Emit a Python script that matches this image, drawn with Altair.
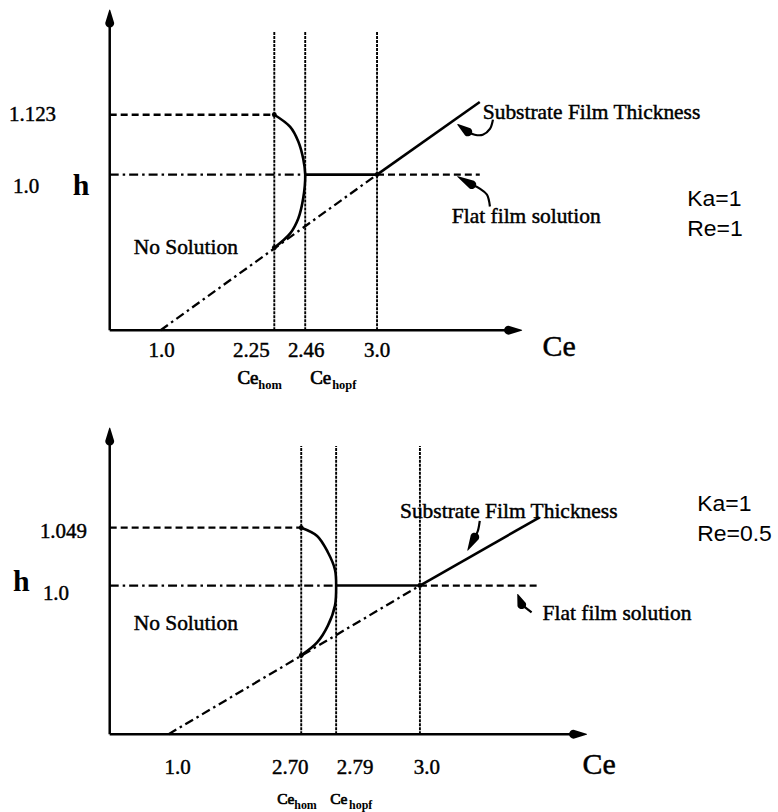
import altair as alt
import pandas as pd

SERIF = "Liberation Serif"
SANS = "Liberation Sans"

# ---------------- data: top panel (Ka=1, Re=1) ----------------
top_ce_ticks = [1.0, 2.25, 2.46, 3.0]          # Ce values marked on the axis
top_ce_labels = ["1.0", "2.25", "2.46", "3.0"]
top_h_ticks = [1.123, 1.0]
top_h_labels = ["1.123", "1.0"]
top_arc_ce = [2.25, 2.358, 2.413, 2.446, 2.46, 2.446, 2.413, 2.358, 2.25]
top_arc_h = [1.123, 1.098, 1.068, 1.033, 1.0, 0.846, 0.718, 0.622, 0.53]
top_sub_end = [4.0, 1.15]                        # end of substrate line (Ce, h)
top_arrow_sub_ce = [4.126, 4.097, 4.029, 3.951, 3.883, 3.786]
top_arrow_sub_h = [1.113, 1.094, 1.082, 1.082, 1.088, 1.103]
top_arrow_flat_ce = [4.097, 4.068, 4.0, 3.922, 3.786]
top_arrow_flat_h = [0.795, 0.872, 0.910, 0.936, 0.987]
top_params = ["Ka=1", "Re=1"]

# ---------------- data: bottom panel (Ka=1, Re=0.5) ----------------
bot_ce_ticks = [1.0, 2.70, 2.79, 3.0]
bot_ce_labels = ["1.0", "2.70", "2.79", "3.0"]
bot_h_ticks = [1.049, 1.0]
bot_h_labels = ["1.049", "1.0"]
bot_arc_ce = [2.70, 2.741, 2.769, 2.787, 2.79, 2.787, 2.769, 2.741, 2.70]
bot_arc_h = [1.049, 1.042, 1.028, 1.0135, 1.0, 0.866, 0.732, 0.617, 0.53]
bot_sub_end = [4.0, 1.058]
bot_arrow_sub_ce = [3.50, 3.483, 3.458, 3.40]
bot_arrow_sub_h = [1.055, 1.046, 1.041, 1.030]
bot_arrow_flat_ce = [3.933, 3.85, 3.817]
bot_arrow_flat_h = [0.819, 0.872, 0.940]
bot_params = ["Ka=1", "Re=0.5"]

TXT = dict(color="black", stroke="black", strokeWidth=0.45)


def panel(c):
    xs = alt.Scale(domain=c["x_dom"], range=c["x_rng"], nice=False, zero=False)
    ys = alt.Scale(domain=c["y_dom"], range=c["y_rng"], nice=False, zero=False)

    def X(f="ce"):
        return alt.X(f, type="quantitative", scale=xs, axis=None)

    def Y(f="h"):
        return alt.Y(f, type="quantitative", scale=ys, axis=None)

    ce_hom, ce_hopf = c["ticks"][1], c["ticks"][2]
    ce_one, ce_c = c["ticks"][0], c["ticks"][3]
    h_max, h_flat = c["h_ticks"][0], c["h_ticks"][1]
    h_low = c["arc_h"][-1]
    ce_end, h_end = c["sub_end"]
    x0, x_tip = c["x_dom"][0], c["x_dom"][-1]
    h_ref_top, h_tip = c["y_dom"][-2], c["y_dom"][-1]
    xh, yh = c["head_len"]

    layers = []

    # vertical reference lines
    ref = pd.DataFrame({"ce": [ce_hom, ce_hopf, ce_c], "h": [0.0] * 3,
                        "h2": [h_ref_top] * 3})
    layers.append(alt.Chart(ref).mark_rule(color="black", strokeWidth=1.9,
                                           strokeDash=[3, 1]).encode(
        x=X(), y=Y(), y2="h2"))

    # axes (shafts end at the base of the arrow heads)
    axes = pd.DataFrame({"ce": [x0, x0], "h": [0.0, 0.0],
                         "ce2": [x_tip - xh, x0], "h2": [0.0, h_tip - yh]})
    layers.append(alt.Chart(axes).mark_rule(color="black", strokeWidth=2.5).encode(
        x=X(), y=Y(), x2="ce2", y2="h2"))

    # dashed segments
    dashed = pd.DataFrame({"ce": [x0, ce_c], "h": [h_max, h_flat],
                           "ce2": [ce_hom, ce_end], "h2": [h_max, h_flat]})
    layers.append(alt.Chart(dashed).mark_rule(color="black", strokeWidth=2.3,
                                              strokeDash=[7, 4]).encode(
        x=X(), y=Y(), x2="ce2", y2="h2"))
    # dash-dot segments
    dashdot = pd.DataFrame({"ce": [x0, ce_one], "h": [h_flat, 0.0],
                            "ce2": [ce_hopf, ce_c], "h2": [h_flat, h_flat]})
    layers.append(alt.Chart(dashdot).mark_rule(color="black", strokeWidth=2.3,
                                               strokeDash=[9, 4, 2.5, 4]).encode(
        x=X(), y=Y(), x2="ce2", y2="h2"))
    # solid segments
    solid = pd.DataFrame({"ce": [ce_hopf, ce_c], "h": [h_flat, h_flat],
                          "ce2": [ce_c, ce_end], "h2": [h_flat, h_end]})
    layers.append(alt.Chart(solid).mark_rule(color="black", strokeWidth=2.6).encode(
        x=X(), y=Y(), x2="ce2", y2="h2"))

    # bifurcation arc
    arc = pd.DataFrame({"ce": c["arc_ce"], "h": c["arc_h"],
                        "i": list(range(len(c["arc_ce"])))})
    layers.append(alt.Chart(arc).mark_line(color="black", strokeWidth=2.6,
                                           interpolate="catmull-rom").encode(
        x=X(), y=Y(), order="i:Q"))

    # junction dots
    dots = pd.DataFrame({"ce": [ce_hom, ce_hom, ce_c], "h": [h_max, h_low, h_flat]})
    layers.append(alt.Chart(dots).mark_circle(color="black", opacity=1, size=24).encode(
        x=X(), y=Y()))

    # annotation arrows: curved shafts
    rows = []
    heads = []
    for k, (cs, hs) in enumerate([(c["arr_sub_ce"], c["arr_sub_h"]),
                                  (c["arr_flat_ce"], c["arr_flat_h"])]):
        for i, (a, b) in enumerate(zip(cs[:-1], hs[:-1])):
            rows.append({"ce": a, "h": b, "i": i, "id": k})
        heads.append({"ce": cs[-2], "h": hs[-2], "i": 0, "id": k, "w": 9})
        heads.append({"ce": cs[-1], "h": hs[-1], "i": 1, "id": k, "w": 0})
    # axis arrow heads
    heads += [
        {"ce": x_tip - xh, "h": 0.0, "i": 0, "id": 2, "w": 9},
        {"ce": x_tip, "h": 0.0, "i": 1, "id": 2, "w": 0},
        {"ce": x0, "h": h_tip - yh, "i": 0, "id": 3, "w": 9},
        {"ce": x0, "h": h_tip, "i": 1, "id": 3, "w": 0},
    ]
    arr = pd.DataFrame(rows)
    layers.append(alt.Chart(arr).mark_line(color="black", strokeWidth=2.2,
                                           interpolate="catmull-rom").encode(
        x=X(), y=Y(), order="i:Q", detail="id:N"))
    hd = pd.DataFrame(heads)
    layers.append(alt.Chart(hd).mark_trail(color="black", opacity=1).encode(
        x=X(), y=Y(), order="i:Q", detail="id:N",
        size=alt.Size("w:Q", scale=None, legend=None)))

    # Ce tick labels
    for v, lab, dx in zip(c["ticks"], c["tick_labels"], c["tick_dx"]):
        d = pd.DataFrame({"ce": [v], "h": [0.0], "t": [lab]})
        layers.append(alt.Chart(d).mark_text(font=SERIF, fontSize=21, dx=dx,
                                             dy=c["tick_dy"], baseline="middle",
                                             align="center", **TXT).encode(
            x=X(), y=Y(), text="t:N"))

    # h tick labels
    for v, lab, px, dy in zip(c["h_ticks"], c["h_labels"], c["h_lab_x"], c["h_lab_dy"]):
        d = pd.DataFrame({"h": [v], "t": [lab]})
        layers.append(alt.Chart(d).mark_text(font=SERIF, fontSize=21, dy=dy,
                                             baseline="middle", align="left",
                                             **TXT).encode(
            x=alt.value(px), y=Y(), text="t:N"))

    # axis titles
    d = pd.DataFrame({"h": [h_flat], "t": ["h"]})
    layers.append(alt.Chart(d).mark_text(font=SERIF, fontSize=30, fontWeight="bold",
                                         dy=c["h_title_dy"], align="left",
                                         baseline="alphabetic", color="black").encode(
        x=alt.value(c["h_title_x"]), y=Y(), text="t:N"))
    d = pd.DataFrame({"ce": [x_tip], "h": [0.0], "t": ["Ce"]})
    layers.append(alt.Chart(d).mark_text(font=SERIF, fontSize=30, dx=c["ce_title_d"][0],
                                         dy=c["ce_title_d"][1], align="left",
                                         baseline="alphabetic", **TXT).encode(
        x=X(), y=Y(), text="t:N"))

    # Ce_hom / Ce_hopf labels
    for v, sub, (dxm, dxs) in zip([ce_hom, ce_hopf], ["hom", "hopf"], c["sub_dx"]):
        d = pd.DataFrame({"ce": [v], "h": [0.0], "t": ["Ce"], "s": [sub]})
        layers.append(alt.Chart(d).mark_text(font=SERIF, fontSize=c["sub_size"][0],
                                             dx=dxm, dy=c["sub_dy"], align="left",
                                             baseline="alphabetic", color="black",
                                             stroke="black", strokeWidth=0.7).encode(
            x=X(), y=Y(), text="t:N"))
        layers.append(alt.Chart(d).mark_text(font=SERIF, fontSize=c["sub_size"][1],
                                             fontWeight="bold",
                                             dx=dxs, dy=c["sub_dy"] + 5, align="left",
                                             baseline="alphabetic", color="black").encode(
            x=X(), y=Y(), text="s:N"))

    # free annotations
    notes = pd.DataFrame({"t": ["No Solution", "Substrate Film Thickness",
                                "Flat film solution"],
                          "px": c["note_x"], "py": c["note_y"]})
    layers.append(alt.Chart(notes).mark_text(font=SERIF, fontSize=21.5, align="left",
                                             baseline="alphabetic", **TXT).encode(
        x=alt.X("px:Q", scale=None, axis=None), y=alt.Y("py:Q", scale=None, axis=None),
        text="t:N"))
    par = pd.DataFrame({"t": c["params"], "px": [c["par_x"]] * 2, "py": c["par_y"]})
    layers.append(alt.Chart(par).mark_text(font=SANS, fontSize=23, align="left",
                                           baseline="alphabetic", color="black").encode(
        x=alt.X("px:Q", scale=None, axis=None), y=alt.Y("py:Q", scale=None, axis=None),
        text="t:N"))

    return alt.layer(*layers).properties(width=778, height=406)


top_cfg = dict(
    x_dom=[0.0] + top_ce_ticks + [4.0, 4.4],
    x_rng=[109, 160, 274, 305, 377, 480, 522],
    y_dom=[0.0, 1.0, 1.123, 1.3, 1.34],
    y_rng=[329, 173, 113, 29, 8],
    head_len=(0.125, 0.025),
    ticks=top_ce_ticks, tick_labels=top_ce_labels, tick_dx=[1, -23, 1, 0], tick_dy=21,
    h_ticks=top_h_ticks, h_labels=top_h_labels, h_lab_x=[8, 12], h_lab_dy=[0, 12],
    arc_ce=top_arc_ce, arc_h=top_arc_h, sub_end=top_sub_end,
    arr_sub_ce=top_arrow_sub_ce, arr_sub_h=top_arrow_sub_h,
    arr_flat_ce=top_arrow_flat_ce, arr_flat_h=top_arrow_flat_h,
    h_title_x=72, h_title_dy=20, ce_title_d=(21, 26),
    sub_dx=[(-37, -16), (5, 27)], sub_dy=54, sub_size=(19, 12.5),
    note_x=[133, 483, 452], note_y=[253, 117, 222],
    params=top_params, par_x=688, par_y=[204, 235],
)

bot_cfg = dict(
    x_dom=[0.0] + bot_ce_ticks + [4.0, 4.4],
    x_rng=[109, 168, 301, 336, 420, 540, 587],
    y_dom=[0.0, 1.0, 1.049, 1.12, 1.135],
    y_rng=[326, 177, 119, 37, 19],
    head_len=(0.11, 0.011),
    ticks=bot_ce_ticks, tick_labels=bot_ce_labels, tick_dx=[9, -11, 19, 7], tick_dy=34,
    h_ticks=bot_h_ticks, h_labels=bot_h_labels, h_lab_x=[39, 42], h_lab_dy=[4, 8],
    arc_ce=bot_arc_ce, arc_h=bot_arc_h, sub_end=bot_sub_end,
    arr_sub_ce=bot_arrow_sub_ce, arr_sub_h=bot_arrow_sub_h,
    arr_flat_ce=bot_arrow_flat_ce, arr_flat_h=bot_arrow_flat_h,
    h_title_x=12, h_title_dy=5, ce_title_d=(-4, 40),
    sub_dx=[(-24, -7), (-6, 13)], sub_dy=70, sub_size=(15.5, 12),
    note_x=[133, 400, 543], note_y=[222, 109, 212],
    params=bot_params, par_x=698, par_y=[102, 132],
)

chart = alt.vconcat(panel(top_cfg), panel(bot_cfg), spacing=0).properties(
    padding=0, background="white"
).configure_view(stroke="transparent")

chart.save("out.html", embed_options={"renderer": "svg", "actions": False})
